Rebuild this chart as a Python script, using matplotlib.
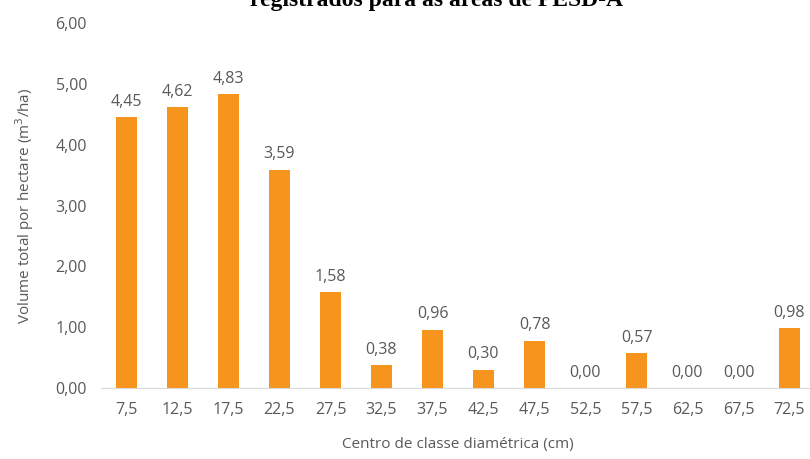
import matplotlib
matplotlib.use("Agg")
import matplotlib.pyplot as plt

categories = ["7,5", "12,5", "17,5", "22,5", "27,5", "32,5", "37,5", "42,5",
              "47,5", "52,5", "57,5", "62,5", "67,5", "72,5"]
values = [4.45, 4.62, 4.83, 3.59, 1.58, 0.38, 0.96, 0.30, 0.78, 0.00, 0.57, 0.00, 0.00, 0.98]
yticks = [0, 1, 2, 3, 4, 5, 6]

plt.rcParams['font.family'] = ['Open Sans', 'DejaVu Sans']
grey = '#595959'
orange = '#F7941D'

fig = plt.figure(figsize=(8.1, 4.59), dpi=100)
ax = fig.add_axes([101/810, 71/459, 714/810, 365/459])
x = list(range(len(categories)))
bars = ax.bar(x, values, width=0.4, color=orange)
for xi, v in zip(x, values):
    ax.text(xi, v + 0.12, f"{v:.2f}".replace('.', ','), ha='center', va='bottom',
            fontsize=11.5, color=grey)
ax.set_xlim(-0.5, len(categories) - 0.5)
ax.set_ylim(0, 6)
ax.set_yticks(yticks)
ax.set_yticklabels([f"{t:.2f}".replace('.', ',') for t in yticks], fontsize=11.5, color=grey)
ax.set_xticks(x)
ax.set_xticklabels(categories, fontsize=11.5, color=grey)
ax.tick_params(axis='y', length=0, pad=10)
ax.tick_params(axis='x', length=0, pad=10)
for s in ['top', 'right', 'left']:
    ax.spines[s].set_visible(False)
ax.spines['bottom'].set_color('#D9D9D9')
ax.set_ylabel("Volume total por hectare (m$^3$/ha)", fontsize=11, color=grey, labelpad=14)
ax.set_xlabel("Centro de classe diamétrica (cm)", fontsize=11, color=grey, labelpad=14)
fig.text(437/810, (459-6)/459, "registrados para as áreas de PESD-A", ha='center',
         va='baseline', fontsize=17, fontweight='bold', family='Liberation Serif')
fig.savefig("out.png", dpi=100)
